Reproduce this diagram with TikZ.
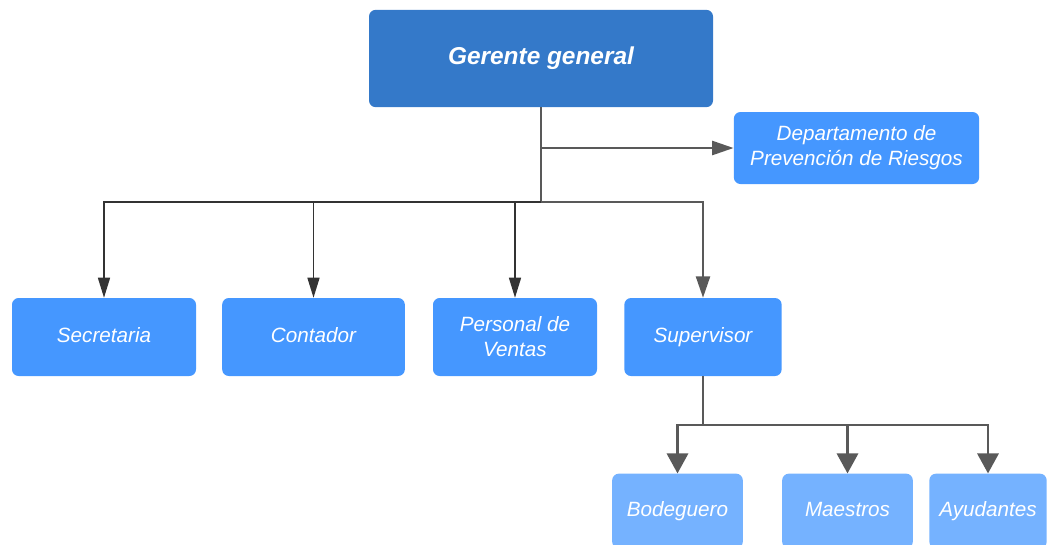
\documentclass[tikz,border=0pt]{standalone}
\usepackage{fontspec}
\setsansfont{Liberation Sans}
\usetikzlibrary{arrows.meta}
\definecolor{topblue}{HTML}{3479C9}
\definecolor{midblue}{HTML}{4597FF}
\definecolor{lowblue}{HTML}{75B2FF}
\definecolor{linegray}{HTML}{595959}
\definecolor{lineblack}{HTML}{333333}
\begin{document}
\begin{tikzpicture}[x=0.75pt, y=-0.75pt,
  every node/.style={font=\sffamily\itshape\fontsize{15.5}{18.75}\selectfont, text=white},
  box/.style={rectangle, rounded corners=5pt, fill=midblue, align=center, inner sep=0pt},
  onebox/.style={box, text height=11.2pt, text depth=3.2pt},
  lowbox/.style={onebox, fill=lowblue},
  grayline/.style={line width=1.7pt, linegray},
  blackline/.style={line width=1.1pt, lineblack},
  grayarr/.style={grayline, -{Triangle[length=16pt, width=10.5pt]}},
  widearr/.style={grayline, -{Triangle[length=15pt, width=16pt]}},
  blackarr/.style={blackline, -{Triangle[length=15pt, width=9pt]}}]
  \useasboundingbox (0,0) rectangle (1050,544);
  \node[onebox, fill=topblue, minimum width=258pt, minimum height=73pt,
    font=\sffamily\bfseries\itshape\fontsize{18.3}{22}\selectfont,
    text height=13.2pt, text depth=3.8pt] (gg) at (541,58.5) {Gerente general};
  \node[box, minimum width=184pt, minimum height=54pt] (dpr) at (856.5,148) {Departamento de\\Prevención de Riesgos};
  \node[onebox, minimum width=138pt, minimum height=58.5pt] (sec) at (104,337) {Secretaria};
  \node[onebox, minimum width=137pt, minimum height=58.5pt] (con) at (313.5,337) {Contador};
  \node[box, minimum width=123pt, minimum height=58.5pt] (pv) at (515,337) {Personal de\\Ventas};
  \node[onebox, minimum width=118pt, minimum height=58.5pt] (sup) at (703,337) {Supervisor};
  \node[lowbox, minimum width=98pt, minimum height=56pt] (bod) at (677.5,511) {Bodeguero};
  \node[lowbox, minimum width=98pt, minimum height=56pt] (mae) at (847.5,511) {Maestros};
  \node[lowbox, minimum width=88pt, minimum height=56pt] (ayu) at (988,511) {Ayudantes};
  \coordinate (hub) at (541,202);
  \coordinate (sub) at (703,425);
  % lines from the general manager
  \draw[grayline] (gg.south) -- (hub);
  \draw[grayarr] (hub |- dpr.west) -- (dpr.west);
  \draw[blackarr] (hub) -| (sec.north);
  \draw[blackarr] (hub) -| (con.north);
  \draw[blackarr] (hub) -| (pv.north);
  \draw[grayarr] (hub) -| (sup.north);
  % lines from the supervisor
  \draw[grayline] (sup.south) -- (sub);
  \draw[widearr] (sub) -| (bod.north);
  \draw[widearr] (sub) -| (mae.north);
  \draw[widearr] (sub) -| (ayu.north);
\end{tikzpicture}
\end{document}
